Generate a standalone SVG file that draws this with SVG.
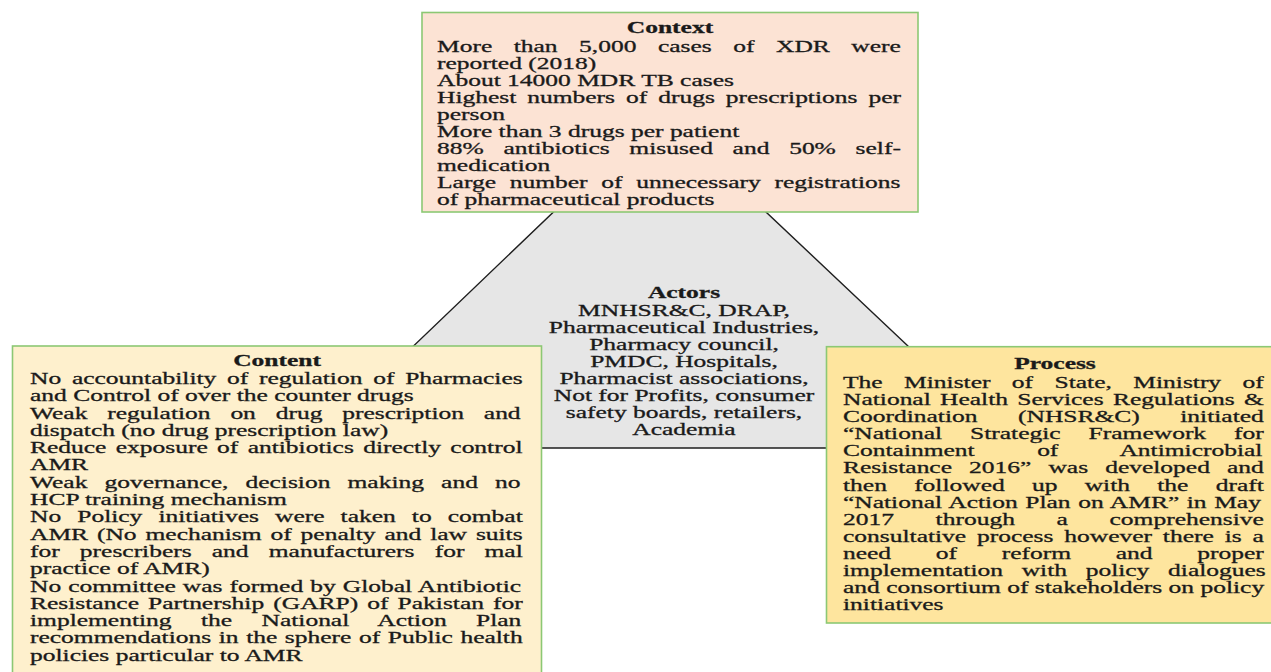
<svg xmlns="http://www.w3.org/2000/svg" width="1271" height="672" viewBox="0 0 1271 672">
<style>
.t{font-family:"Liberation Serif","Times New Roman",serif;font-size:16.5px;fill:#1a1a1a;stroke:#1a1a1a;stroke-width:0.3}
.b{font-weight:bold}
.box{stroke:#8cc874;stroke-width:1.6}
</style>
<rect width="1271" height="672" fill="#ffffff"/>
<g id="node-actors">
<polygon points="659,111 1016,448 307,448" fill="#e6e6e6" stroke="#1e1e1e" stroke-width="1.4"/>
</g>
<g id="node-context">
<rect class="box" x="422" y="12.5" width="496" height="199.5" fill="#fce3d4"/>
</g>
<g id="node-content">
<rect class="box" x="12.5" y="346" width="529" height="340" fill="#fef0cd"/>
</g>
<g id="node-process">
<rect class="box" x="826.5" y="346.7" width="460" height="276.3" fill="#fee59e"/>
</g>
<g id="text-actors" class="t" transform="translate(684,0) scale(1.545,1)" text-anchor="middle">
<text x="0" y="298.5" class="b">Actors</text>
<text x="0" y="315.6">MNHSR&amp;C, DRAP,</text>
<text x="0" y="332.7">Pharmaceutical Industries,</text>
<text x="0" y="349.8">Pharmacy council,</text>
<text x="0" y="366.9">PMDC, Hospitals,</text>
<text x="0" y="384">Pharmacist associations,</text>
<text x="0" y="401.1">Not for Profits, consumer</text>
<text x="0" y="418.2">safety boards, retailers,</text>
<text x="0" y="435.3">Academia</text>
</g>
<g id="text-context" class="t" transform="translate(437,0) scale(1.545,1)">
<text x="150.8" y="33.3" class="b" text-anchor="middle">Context</text>
<text x="0" y="51.6" word-spacing="9.8">More than 5,000 cases of XDR were</text>
<text x="0" y="68.7">reported (2018)</text>
<text x="0" y="85.8">About 14000 MDR TB cases</text>
<text x="0" y="102.9" word-spacing="2.97">Highest numbers of drugs prescriptions per</text>
<text x="0" y="120">person</text>
<text x="0" y="137.1">More than 3 drugs per patient</text>
<text x="0" y="154.2" word-spacing="8.64">88% antibiotics misused and 50% self-</text>
<text x="0" y="171.3">medication</text>
<text x="0" y="188.4" word-spacing="4.74">Large number of unnecessary registrations</text>
<text x="0" y="205.5">of pharmaceutical products</text>
</g>
<g id="text-content" class="t" transform="translate(30,0) scale(1.545,1)">
<text x="159.9" y="366" class="b" text-anchor="middle">Content</text>
<text x="0" y="384" word-spacing="2.84">No accountability of regulation of Pharmacies</text>
<text x="0" y="401.3">and Control of over the counter drugs</text>
<text x="0" y="418.6" word-spacing="8.71">Weak regulation on drug prescription and</text>
<text x="0" y="435.9">dispatch (no drug prescription law)</text>
<text x="0" y="453.2" word-spacing="1.91">Reduce exposure of antibiotics directly control</text>
<text x="0" y="470.5">AMR</text>
<text x="0" y="487.8" word-spacing="6.96">Weak governance, decision making and no</text>
<text x="0" y="505.1">HCP training mechanism</text>
<text x="0" y="522.4" word-spacing="6.27">No Policy initiatives were taken to combat</text>
<text x="0" y="539.7" word-spacing="1.63">AMR (No mechanism of penalty and law suits</text>
<text x="0" y="557" word-spacing="8.91">for prescribers and manufacturers for mal</text>
<text x="0" y="574.3">practice of AMR)</text>
<text x="0" y="591.6" word-spacing="0.44">No committee was formed by Global Antibiotic</text>
<text x="0" y="608.9" word-spacing="1.75">Resistance Partnership (GARP) of Pakistan for</text>
<text x="0" y="626.2" word-spacing="14.9">implementing the National Action Plan</text>
<text x="0" y="643.5" word-spacing="0.77">recommendations in the sphere of Public health</text>
<text x="0" y="660.8">policies particular to AMR</text>
</g>
<g id="text-process" class="t" transform="translate(843,0) scale(1.545,1)">
<text x="137.2" y="369.3" class="b" text-anchor="middle">Process</text>
<text x="0" y="388" word-spacing="9.75">The Minister of State, Ministry of</text>
<text x="0" y="405.1" word-spacing="1.88">National Health Services Regulations &amp;</text>
<text x="0" y="422.2" word-spacing="22.08">Coordination (NHSR&amp;C) initiated</text>
<text x="0" y="439.3" word-spacing="13.98">“National Strategic Framework for</text>
<text x="0" y="456.4" word-spacing="36.3">Containment of Antimicrobial</text>
<text x="0" y="473.5" word-spacing="6.93">Resistance 2016” was developed and</text>
<text x="0" y="490.6" word-spacing="13.51">then followed up with the draft</text>
<text x="0" y="507.7" word-spacing="0.79">“National Action Plan on AMR” in May</text>
<text x="0" y="524.8" word-spacing="22.83">2017 through a comprehensive</text>
<text x="0" y="541.9" word-spacing="2.89">consultative process however there is a</text>
<text x="0" y="559" word-spacing="24.8">need of reform and proper</text>
<text x="0" y="576.1" word-spacing="7.97">implementation with policy dialogues</text>
<text x="0" y="593.2">and consortium of stakeholders on policy</text>
<text x="0" y="610.3">initiatives</text>
</g>
</svg>
